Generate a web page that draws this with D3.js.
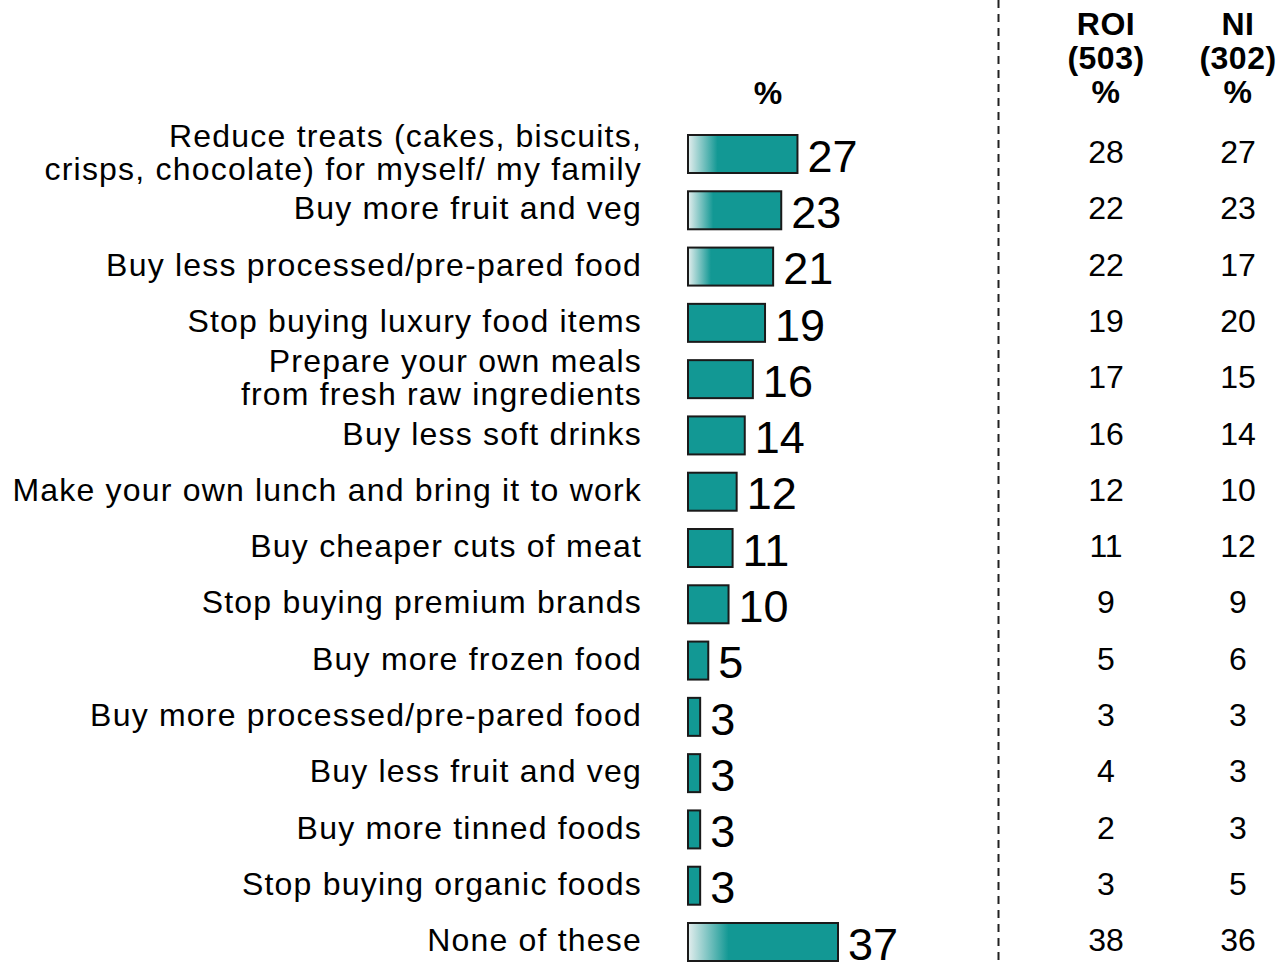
<!DOCTYPE html>
<html>
<head>
<meta charset="utf-8">
<script src="https://cdn.jsdelivr.net/npm/d3@7"></script>
<style>
  body { margin: 0; background: #fff; }
  svg { font-family: "Liberation Sans", Arial, sans-serif; }
</style>
</head>
<body>
<div id="vis"></div>
<script>
var categories = [
  ["Reduce treats (cakes, biscuits,", "crisps, chocolate) for myself/ my family"],
  ["Buy more fruit and veg"],
  ["Buy less processed/pre-pared food"],
  ["Stop buying luxury food items"],
  ["Prepare your own meals", "from fresh raw ingredients"],
  ["Buy less soft drinks"],
  ["Make your own lunch and bring it to work"],
  ["Buy cheaper cuts of meat"],
  ["Stop buying premium brands"],
  ["Buy more frozen food"],
  ["Buy more processed/pre-pared food"],
  ["Buy less fruit and veg"],
  ["Buy more tinned foods"],
  ["Stop buying organic foods"],
  ["None of these"]
];
var totals = [27, 23, 21, 19, 16, 14, 12, 11, 10, 5, 3, 3, 3, 3, 37];
var roi = [28, 22, 22, 19, 17, 16, 12, 11, 9, 5, 3, 4, 2, 3, 38];
var ni = [27, 23, 17, 20, 15, 14, 10, 12, 9, 6, 3, 3, 3, 5, 36];
var colHeaders = [["ROI", "(503)", "%"], ["NI", "(302)", "%"]];

var data = categories.map(function(c, i) {
  return {id: i, label: c, value: totals[i], roi: roi[i], ni: ni[i]};
});

var W = 1282, H = 966;
var svg = d3.select("#vis").append("svg")
  .attr("width", W).attr("height", H);

var defs = svg.append("defs");
var grad = defs.append("linearGradient").attr("id", "fade")
  .attr("x1", "0").attr("x2", "1").attr("y1", "0").attr("y2", "0");
grad.append("stop").attr("offset", "0").attr("stop-color", "#e4eeee");
grad.append("stop").attr("offset", "0.27").attr("stop-color", "#129894");
grad.append("stop").attr("offset", "1").attr("stop-color", "#129894");

var x = d3.scaleLinear().domain([0, 37]).range([688, 838]);
var y = d3.scalePoint().domain(data.map(function(d) { return d.id; })).range([154, 942]);
var barH = 38;

// dashed divider
svg.append("line")
  .attr("x1", 998.5).attr("x2", 998.5).attr("y1", 0).attr("y2", H)
  .attr("stroke", "#222").attr("stroke-width", 2)
  .attr("stroke-dasharray", "8,6");

// category labels
var labels = svg.append("g").attr("font-size", 32).attr("letter-spacing", 1.2)
  .attr("text-anchor", "end").attr("fill", "#000");
data.forEach(function(d) {
  var n = d.label.length;
  d.label.forEach(function(line, j) {
    labels.append("text")
      .attr("x", 642)
      .attr("y", y(d.id) + (j - (n - 1) / 2) * 33 - 2)
      .attr("dy", "0.35em")
      .text(line);
  });
});

// bars
svg.append("g").selectAll("rect")
  .data(data)
  .enter().append("rect")
  .attr("x", x(0))
  .attr("y", function(d) { return y(d.id) - barH / 2; })
  .attr("width", function(d) { return x(d.value) - x(0); })
  .attr("height", barH)
  .attr("fill", function(d) { return d.value > 20 ? "url(#fade)" : "#129894"; })
  .attr("stroke", "#1a1a1a")
  .attr("stroke-width", 2);

// value labels
svg.append("g").attr("font-size", 45).attr("fill", "#000")
  .selectAll("text")
  .data(data)
  .enter().append("text")
  .attr("x", function(d) { return x(d.value) + 10; })
  .attr("y", function(d) { return y(d.id) + 2; })
  .attr("dy", "0.35em")
  .text(function(d) { return d.value; });

// "%" header above bars
svg.append("text")
  .attr("x", 768).attr("y", 93).attr("dy", "0.35em")
  .attr("text-anchor", "middle").attr("font-size", 32).attr("font-weight", "bold")
  .text("%");

// ROI / NI columns
var cols = [{x: 1106, vals: roi, head: colHeaders[0]}, {x: 1238, vals: ni, head: colHeaders[1]}];
cols.forEach(function(c) {
  var g = svg.append("g").attr("text-anchor", "middle");
  c.head.forEach(function(h, j) {
    g.append("text")
      .attr("x", c.x).attr("y", 24 + j * 34).attr("dy", "0.35em")
      .attr("font-size", 32).attr("font-weight", "bold").attr("letter-spacing", 0.5)
      .text(h);
  });
  g.selectAll("text.v")
    .data(data)
    .enter().append("text")
    .attr("class", "v")
    .attr("x", c.x)
    .attr("y", function(d) { return y(d.id) - 2; })
    .attr("dy", "0.35em")
    .attr("font-size", 32)
    .text(function(d) { return c.vals[d.id]; });
});
</script>
</body>
</html>
